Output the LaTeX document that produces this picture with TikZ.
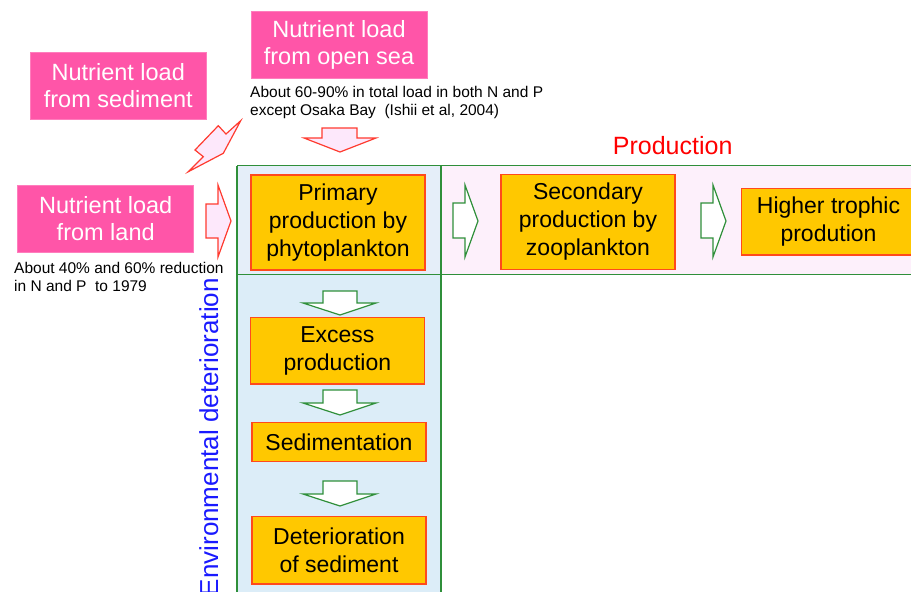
\documentclass[tikz,border=0pt]{standalone}
\usepackage{fontspec}
\setmainfont{Liberation Sans}
\definecolor{nload}{HTML}{FF55A8}
\definecolor{nloadline}{HTML}{FF7DBD}
\definecolor{afill}{HTML}{FDE8FB}
\definecolor{aline}{HTML}{FF3B2F}
\definecolor{ofill}{HTML}{FFC800}
\definecolor{oline}{HTML}{FF4A1C}
\definecolor{grn}{HTML}{2F8F3A}
\definecolor{cellA}{HTML}{E5EEF9}
\definecolor{cellB}{HTML}{DCEDF8}
\definecolor{cellC}{HTML}{FDF0FB}
\definecolor{envblue}{HTML}{1A1AFF}
\tikzset{
  pinkbox/.style={fill=nload, draw=nloadline, line width=0.8pt, text=white, align=center,
    inner sep=0pt, font=\fontsize{23.5}{27}\selectfont, minimum width=176pt, minimum height=66.5pt},
  obox/.style={fill=ofill, draw=oline, line width=1.3pt, align=center, inner sep=0pt,
    font=\fontsize{23}{28}\selectfont, minimum width=174pt},
  note/.style={align=left, inner sep=0pt, anchor=north west, font=\fontsize{15.5}{18}\selectfont},
  redarrow/.style={fill=afill, draw=aline, line width=1.2pt, line join=miter},
  grnarrow/.style={fill=white, draw=grn, line width=1.2pt, line join=miter},
  gridline/.style={draw=grn, line width=1.4pt},
}
\begin{document}
\begin{tikzpicture}[x=1pt,y=-1pt]
\useasboundingbox (0,0) rectangle (911,592);
\clip (0,0) rectangle (911,592);
% cells
\fill[cellA] (237,165.5) rectangle (441,274.5);
\fill[cellB] (237,274.5) rectangle (441,592);
\fill[cellC] (441,165.5) rectangle (911,274.5);
\draw[gridline] (237,165.5) -- (911,165.5);
\draw[gridline] (237,274.5) -- (911,274.5);
\draw[gridline] (237,165.5) -- (237,592);
\draw[gridline] (441,165.5) -- (441,592);

% nutrient load boxes
\node[pinkbox] (sed) at (118.3,85.8) {Nutrient load\\from sediment};
\node[pinkbox] (sea) at (339,45) {Nutrient load\\from open sea};
\node[pinkbox] (land) at (105.7,218.7) {Nutrient load\\from land};

\node[note] (seanote) at (250,86) {About 60-90\% in total load in both N and P\\except Osaka Bay\ \ (Ishii et al, 2004)};
\node[note] (landnote) at (14,262) {About 40\% and 60\% reduction\\in N and P\ \ to 1979};

% red arrows
\draw[redarrow] (240.7,120.7) -- (226,134) -- (218.3,125.7) -- (195,150) -- (203.3,156.7)
  -- (188.3,171.7) -- (223.3,153.3) -- cycle;
\draw[redarrow] (206,204) -- (218,204) -- (218,185) -- (231,221) -- (218,257) -- (218,238) -- (206,238) -- cycle;
\draw[redarrow] (322,128) -- (357,128) -- (357,138) -- (376,138) -- (340,152) -- (304,138) -- (322,138) -- cycle;

% production boxes
\node[obox, minimum height=95pt] (prim) at (338,222.5) {Primary\\production by\\phytoplankton};
\node[obox, minimum height=95pt] (sec) at (588,221.7) {Secondary\\production by\\zooplankton};
\node[obox, minimum height=66.7pt] (high) at (828.5,221.7) {Higher trophic\\prodution};
\node[obox, minimum height=66.7pt] (exc) at (337.4,350.7) {Excess\\production};
\node[obox, minimum height=39.4pt] (sedi) at (339,442) {Sedimentation};
\node[obox, minimum height=67.3pt] (det) at (339,550.3) {Deterioration\\of sediment};

% green arrows
\draw[grnarrow] (453,203) -- (465,203) -- (465,185) -- (478,221) -- (465,257) -- (465,238) -- (453,238) -- cycle;
\draw[grnarrow] (701,203) -- (713,203) -- (713,185) -- (726,221) -- (713,257) -- (713,238) -- (701,238) -- cycle;
\draw[grnarrow] (323,291) -- (357,291) -- (357,303) -- (376,303) -- (340,315) -- (303,303) -- (323,303) -- cycle;
\draw[grnarrow] (323,390) -- (357,390) -- (357,403) -- (376,403) -- (340,415) -- (303,403) -- (323,403) -- cycle;
\draw[grnarrow] (323,481) -- (357,481) -- (357,494) -- (376,494) -- (340,506) -- (303,494) -- (323,494) -- cycle;

% headings
\node[anchor=base, inner sep=0pt, text=red, font=\fontsize{25}{30}\selectfont] (prod) at (672.7,154) {Production};
\node[anchor=base east, rotate=90, inner sep=0pt, text=envblue, font=\fontsize{26}{30}\selectfont] (env) at (218,278) {Environmental deterioration};
\end{tikzpicture}
\end{document}
